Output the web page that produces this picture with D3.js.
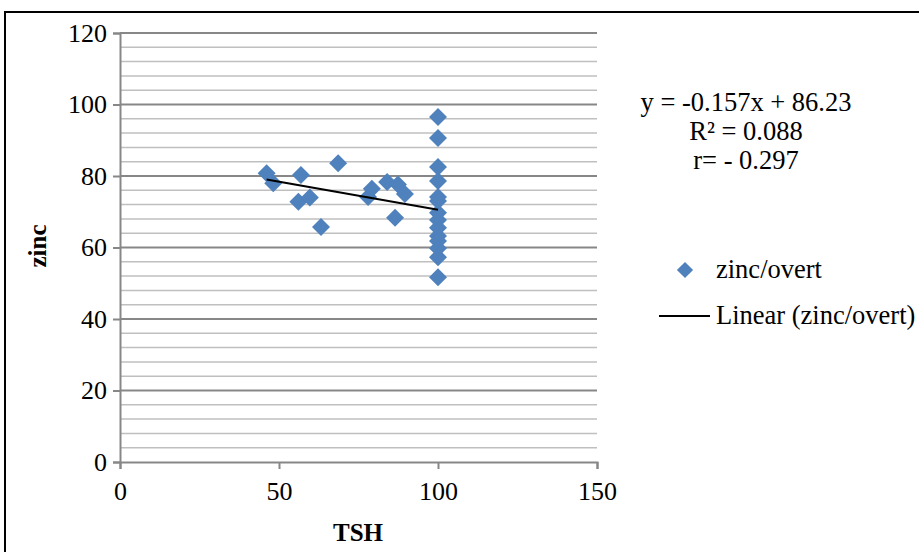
<!DOCTYPE html>
<html>
<head>
<meta charset="utf-8">
<script src="https://cdn.jsdelivr.net/npm/d3@7"></script>
<style>
  body { margin: 0; background: #fff; }
  text { font-family: "Liberation Serif", "Times New Roman", serif; fill: #000; }
</style>
</head>
<body>
<script>
//scatter data (TSH vs zinc, overt group)
var tsh = [46.1, 48.2, 56.9, 56.1, 59.7, 63.2, 68.6, 78.0, 79.2, 84.0, 87.4, 89.6, 86.5,
           100, 100, 100, 100, 100, 100, 100, 100, 100, 100, 100, 100, 100, 100];
var zinc = [80.8, 78.0, 80.3, 72.8, 74.0, 65.7, 83.6, 74.1, 76.4, 78.3, 77.6, 75.0, 68.3,
            96.5, 90.6, 82.5, 78.6, 74.1, 73.0, 69.7, 67.7, 65.5, 63.2, 61.8, 59.8, 57.3, 51.7];
//trend line coefficients from the chart label
var slope = -0.157, intercept = 86.23;
var xTicks = [0, 50, 100, 150];
var yTicks = [0, 20, 40, 60, 80, 100, 120];
var statLines = ["y = -0.157x + 86.23", "R\u00b2 = 0.088", "r= - 0.297"];
var legendLabels = ["zinc/overt", "Linear (zinc/overt)"];

window.onload = drawChart();

function drawChart(){
    var width = 919, height = 552;

    var svg = d3.select("body").append("svg")
        .attr("width", width)
        .attr("height", height);

    //outer frame
    svg.append("rect")
        .attr("x", 5).attr("y", 12)
        .attr("width", 930).attr("height", 560)
        .attr("fill", "none")
        .attr("stroke", "#000")
        .attr("stroke-width", 2);

    var x = d3.scaleLinear().domain([0, 150]).range([120, 597]);
    var y = d3.scaleLinear().domain([0, 120]).range([462, 33]);

    //gridlines: minor every 4, major every 20
    var minor = d3.range(4, 121, 4).filter(function(v){ return v % 20 !== 0; });
    svg.selectAll(".minor").data(minor).enter().append("line")
        .attr("x1", x(0)).attr("x2", x(150))
        .attr("y1", function(d){ return y(d); })
        .attr("y2", function(d){ return y(d); })
        .attr("stroke", "#bfbfbf").attr("stroke-width", 1.5);
    svg.selectAll(".major").data(yTicks.slice(1)).enter().append("line")
        .attr("x1", x(0)).attr("x2", x(150))
        .attr("y1", function(d){ return y(d); })
        .attr("y2", function(d){ return y(d); })
        .attr("stroke", "#878787").attr("stroke-width", 2);

    //axes
    var xAxis = svg.append("g")
        .attr("transform", "translate(0," + y(0) + ")")
        .call(d3.axisBottom(x).tickValues(xTicks).tickSize(7).tickPadding(13));
    var yAxis = svg.append("g")
        .attr("transform", "translate(" + x(0) + ",0)")
        .call(d3.axisLeft(y).tickValues(yTicks).tickSize(7).tickPadding(6));
    [xAxis, yAxis].forEach(function(g){
        g.select(".domain").attr("stroke", "#878787").attr("stroke-width", 2);
        g.selectAll(".tick line").attr("stroke", "#878787").attr("stroke-width", 2);
        g.selectAll(".tick text")
            .attr("font-family", "Liberation Serif")
            .attr("font-size", 26)
            .attr("fill", "#000");
    });

    //points as diamonds
    var diamond = "M0,-9L9,0L0,9L-9,0Z";
    svg.selectAll(".pt").data(tsh).enter().append("path")
        .attr("d", diamond)
        .attr("transform", function(d, i){
            return "translate(" + x(d) + "," + y(zinc[i]) + ")";
        })
        .attr("fill", "#4f81bd");

    //linear trend line
    var xr = d3.extent(tsh);
    svg.append("line")
        .attr("x1", x(xr[0])).attr("y1", y(slope * xr[0] + intercept))
        .attr("x2", x(xr[1])).attr("y2", y(slope * xr[1] + intercept))
        .attr("stroke", "#000").attr("stroke-width", 2);

    //axis titles
    svg.append("text")
        .attr("x", 358).attr("y", 541)
        .attr("text-anchor", "middle")
        .attr("font-size", 25).attr("font-weight", "bold")
        .text("TSH");
    svg.append("text")
        .attr("transform", "translate(46,246) rotate(-90)")
        .attr("text-anchor", "middle")
        .attr("font-size", 25).attr("font-weight", "bold")
        .text("zinc");

    //equation block
    svg.selectAll(".stat").data(statLines).enter().append("text")
        .attr("x", 746)
        .attr("y", function(d, i){ return 111 + i * 29; })
        .attr("text-anchor", "middle")
        .attr("font-size", 26.5)
        .text(function(d){ return d; });

    //legend
    svg.append("path").attr("d", diamond)
        .attr("transform", "translate(685,270) scale(0.9)")
        .attr("fill", "#4f81bd");
    svg.append("line")
        .attr("x1", 659).attr("x2", 710)
        .attr("y1", 316).attr("y2", 316)
        .attr("stroke", "#000").attr("stroke-width", 2);
    svg.selectAll(".leg").data(legendLabels).enter().append("text")
        .attr("x", 716)
        .attr("y", function(d, i){ return 278 + i * 46; })
        .attr("font-size", 26.5)
        .text(function(d){ return d; });
}
</script>
</body>
</html>
